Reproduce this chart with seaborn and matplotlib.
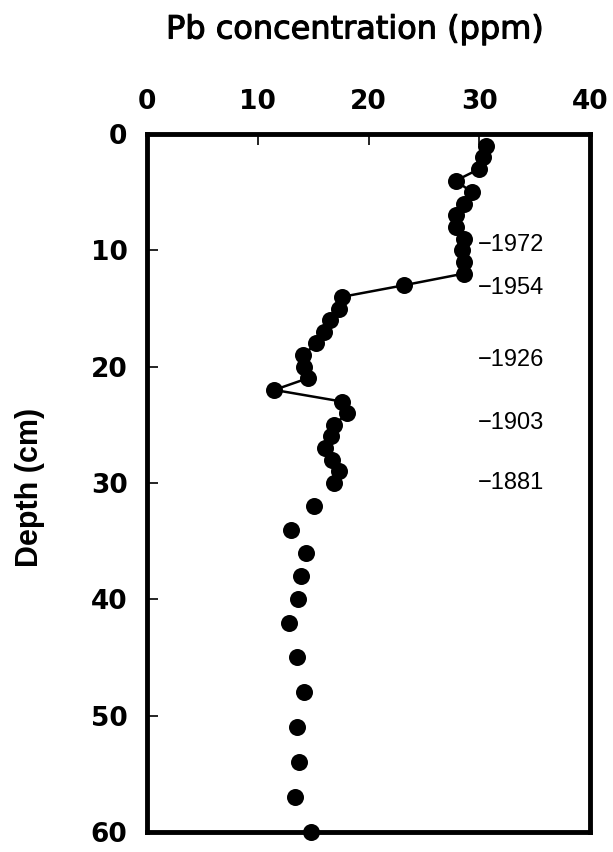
import matplotlib
matplotlib.use("Agg")
import matplotlib.pyplot as plt
import matplotlib.patheffects as pe
import seaborn as sns
import pandas as pd

# Data
depth_connected = [1, 2, 3, 4, 5, 6, 7, 8, 9, 10, 11, 12, 13, 14, 15, 16, 17, 18,
                   19, 20, 21, 22, 23, 24, 25, 26, 27, 28, 29, 30]
pb_connected = [30.6, 30.3, 30.0, 27.9, 29.3, 28.6, 27.9, 27.9, 28.6, 28.4, 28.6, 28.6,
                23.2, 17.6, 17.3, 16.5, 16.0, 15.3, 14.1, 14.2, 14.5, 11.5, 17.6, 18.1,
                16.9, 16.6, 16.1, 16.7, 17.3, 16.9]
depth_points = [32, 34, 36, 38, 40, 42, 45, 48, 51, 54, 57, 60]
pb_points = [15.1, 13.0, 14.4, 13.9, 13.6, 12.8, 13.5, 14.2, 13.5, 13.7, 13.4, 14.8]

year_labels = ["\u22121972", "\u22121954", "\u22121926", "\u22121903", "\u22121881"]
year_depths = [9.5, 13.2, 19.4, 24.8, 30.0]

x_ticks = [0, 10, 20, 30, 40]
y_ticks = [0, 10, 20, 30, 40, 50, 60]

sns.set_theme(style="white")
plt.rcParams['font.family'] = ['Liberation Sans', 'DejaVu Sans']

fig = plt.figure(figsize=(6.13, 8.52), dpi=100)
ax = fig.add_axes([0.2398, 0.0235, 0.9625 - 0.2398, 0.8427 - 0.0235])

df_line = pd.DataFrame({"pb": pb_connected, "depth": depth_connected})
df_pts = pd.DataFrame({"pb": pb_connected + pb_points,
                       "depth": depth_connected + depth_points})

sns.lineplot(data=df_line, x="pb", y="depth", sort=False, estimator=None,
             color="black", linewidth=1.8, ax=ax)
sns.scatterplot(data=df_pts, x="pb", y="depth", color="black", s=150,
                edgecolor="black", linewidth=0, ax=ax, clip_on=False, zorder=5)

for lab, d in zip(year_labels, year_depths):
    ax.text(29.9, d, lab, fontsize=17, va="center", ha="left", color="black")

ax.set_xlim(0, 40)
ax.set_ylim(60, 0)
ax.set_xticks(x_ticks)
ax.set_yticks(y_ticks)
ax.xaxis.tick_top()
ax.tick_params(axis="both", direction="in", length=8, width=1.2, pad=14,
               labelsize=19, colors="black", top=True, bottom=False,
               left=True, right=False)
for lbl in ax.get_xticklabels() + ax.get_yticklabels():
    lbl.set_fontweight("bold")
    lbl.set_family(["DejaVu Sans"])

ax.set_xlabel("")
ax.set_ylabel("")
fig.text(355 / 613, 1 - 30 / 852, "Pb concentration (ppm)", fontsize=23,
         family=["DejaVu Sans"], ha="center", va="center", color="black",
         path_effects=[pe.withStroke(linewidth=0.8, foreground="black")])
fig.text(30 / 613, 1 - 487 / 852, "Depth (cm)", fontsize=22, fontweight="bold",
         rotation=90, ha="center", va="center", color="black")

for sp in ax.spines.values():
    sp.set_visible(True)
    sp.set_color("black")
    sp.set_linewidth(3.5)

ax.grid(False)
fig.savefig("out.png", dpi=100)
